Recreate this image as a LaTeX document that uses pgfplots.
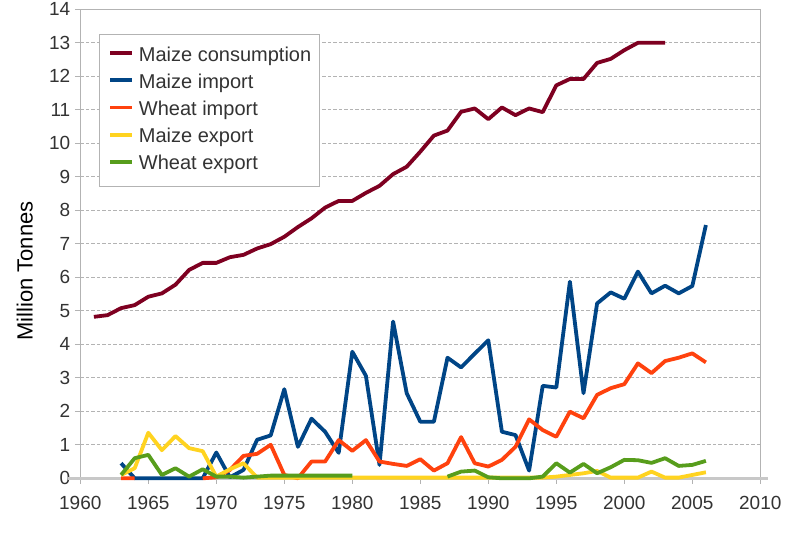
\documentclass[border=0pt]{standalone}
\usepackage{fontspec}
\setmainfont{Liberation Sans}
\usepackage{pgfplots}
\usepackage{pgfplotstable}
\pgfplotsset{compat=1.18}
\definecolor{cCons}{HTML}{7E0021}
\definecolor{cMImp}{HTML}{004586}
\definecolor{cWImp}{HTML}{FF420E}
\definecolor{cMExp}{HTML}{FFD320}
\definecolor{cWExp}{HTML}{579D1C}
\definecolor{axgray}{HTML}{B3B3B3}
\definecolor{baseg}{HTML}{C8C8C8}
\definecolor{txt}{HTML}{333333}

\pgfplotstableread{
year val
1961 4.82
1962 4.87
1963 5.08
1964 5.17
1965 5.42
1966 5.52
1967 5.78
1968 6.22
1969 6.43
1970 6.43
1971 6.60
1972 6.67
1973 6.86
1974 6.99
1975 7.21
1976 7.50
1977 7.76
1978 8.08
1979 8.28
1980 8.28
1981 8.52
1982 8.73
1983 9.08
1984 9.30
1985 9.75
1986 10.23
1987 10.38
1988 10.94
1989 11.04
1990 10.72
1991 11.07
1992 10.84
1993 11.04
1994 10.93
1995 11.73
1996 11.92
1997 11.92
1998 12.40
1999 12.52
2000 12.78
2001 13.00
2002 13.00
2003 13.00
}\consumption

\pgfplotstableread{
year val
1963 0.45
1964 0
1965 0
1966 0
1967 0
1968 0
1969 0
1970 0.77
1971 0.03
1972 0.25
1973 1.15
1974 1.28
1975 2.66
1976 0.94
1977 1.78
1978 1.39
1979 0.76
1980 3.78
1981 3.06
1982 0.40
1983 4.68
1984 2.54
1985 1.69
1986 1.69
1987 3.60
1988 3.31
1989 3.72
1990 4.12
1991 1.39
1992 1.29
1993 0.23
1994 2.76
1995 2.71
1996 5.87
1997 2.54
1998 5.22
1999 5.55
2000 5.36
2001 6.17
2002 5.52
2003 5.75
2004 5.52
2005 5.74
2006 7.56
}\maizeimport

\pgfplotstableread{
year val
1963 0
1964 0
1965 nan
1966 nan
1967 nan
1968 nan
1969 0
1970 0.03
1971 0.25
1972 0.67
1973 0.73
1974 1.00
1975 0.10
1976 0
1977 0.50
1978 0.50
1979 1.14
1980 0.82
1981 1.14
1982 0.50
1983 0.43
1984 0.37
1985 0.57
1986 0.23
1987 0.45
1988 1.23
1989 0.45
1990 0.35
1991 0.55
1992 0.94
1993 1.76
1994 1.44
1995 1.24
1996 1.99
1997 1.79
1998 2.49
1999 2.69
2000 2.81
2001 3.43
2002 3.14
2003 3.50
2004 3.60
2005 3.73
2006 3.46
}\wheatimport

\pgfplotstableread{
year val
1963 0.10
1964 0.30
1965 1.36
1966 0.84
1967 1.26
1968 0.90
1969 0.81
1970 0.05
1971 0.27
1972 0.45
1973 0.02
1974 0.02
1975 0.02
1976 0.02
1977 0.02
1978 0.02
1979 0.02
1980 0.02
1981 0.02
1982 0.02
1983 0.02
1984 0.02
1985 0.02
1986 0.02
1987 0.02
1988 0.02
1989 0.02
1990 0.02
1991 0.02
1992 0.02
1993 0.02
1994 0.02
1995 0.05
1996 0.10
1997 0.15
1998 0.22
1999 0.02
2000 0.02
2001 0.02
2002 0.20
2003 0.02
2004 0.02
2005 0.10
2006 0.18
}\maizeexport

\pgfplotstableread{
year val
1963 0.10
1964 0.60
1965 0.70
1966 0.10
1967 0.30
1968 0.05
1969 0.27
1970 0.05
1971 0.05
1972 0.02
1973 0.05
1974 0.08
1975 0.08
1976 0.08
1977 0.08
1978 0.08
1979 0.08
1980 0.08
1981 nan
1982 nan
1983 nan
1984 nan
1985 nan
1986 nan
1987 0.05
1988 0.20
1989 0.23
1990 0.03
1991 0
1992 0
1993 0
1994 0.05
1995 0.45
1996 0.17
1997 0.43
1998 0.15
1999 0.33
2000 0.55
2001 0.54
2002 0.46
2003 0.60
2004 0.37
2005 0.40
2006 0.52
}\wheatexport

\begin{document}
\begin{tikzpicture}
\useasboundingbox (0,0) rectangle (800pt,547pt);
\begin{axis}[
  at={(80.3pt,68.7pt)}, anchor=south west,
  scale only axis, width=680pt, height=469pt,
  xmin=1960, xmax=2010, ymin=0, ymax=14,
  xtick={1960,1965,...,2010}, ytick={0,1,...,14},
  xtick pos=bottom, ytick pos=left,
  tick align=outside, major tick length=5.5pt,
  tick style={axgray, line width=1pt},
  axis line style={axgray, line width=1pt},
  ymajorgrids,
  grid style={axgray, line width=1pt, dash pattern=on 3.5pt off 2pt},
  /pgf/number format/assume math mode=true,
  /pgf/number format/1000 sep={},
  ticklabel style={font=\fontsize{19}{22}\selectfont, text=txt},
  xticklabel style={yshift=-9pt},
  yticklabel style={xshift=-1pt},
  ylabel={Million Tonnes},
  every axis y label/.style={at={(rel axis cs:0,0.442)}, xshift=-55.5pt, rotate=90, anchor=center, font=\fontsize{22}{26}\selectfont, text=black},
  clip=false,
  unbounded coords=jump,
  legend cell align=left,
  legend style={at={(0.0279,0.9473)}, anchor=north west, draw=axgray, line width=1pt, fill=white,
    font=\fontsize{20}{24}\selectfont, text=txt, inner xsep=8.4pt, inner ysep=11.5pt,
    row sep=7.2pt, column sep=5pt,
    nodes={inner sep=0pt, text height=15pt, text depth=5pt}},
  legend image code/.code={\draw[#1, line cap=butt] (0pt,3pt) -- (22pt,3pt);},
  every axis plot/.append style={line width=3.8pt, line join=round},
]
\draw[baseg, line width=2.5pt] ([xshift=-12.3pt]rel axis cs:0,0) -- ([xshift=7.7pt]rel axis cs:1,0);
\addplot[cCons] table[x=year, y=val] {\consumption};
\addlegendentry{Maize consumption}
\addplot[cMImp] table[x=year, y=val] {\maizeimport};
\addlegendentry{Maize import}
\addplot[cWImp] table[x=year, y=val] {\wheatimport};
\addlegendentry{Wheat import}
\addplot[cMExp] table[x=year, y=val] {\maizeexport};
\addlegendentry{Maize export}
\addplot[cWExp] table[x=year, y=val] {\wheatexport};
\addlegendentry{Wheat export}
\end{axis}
\end{tikzpicture}
\end{document}
